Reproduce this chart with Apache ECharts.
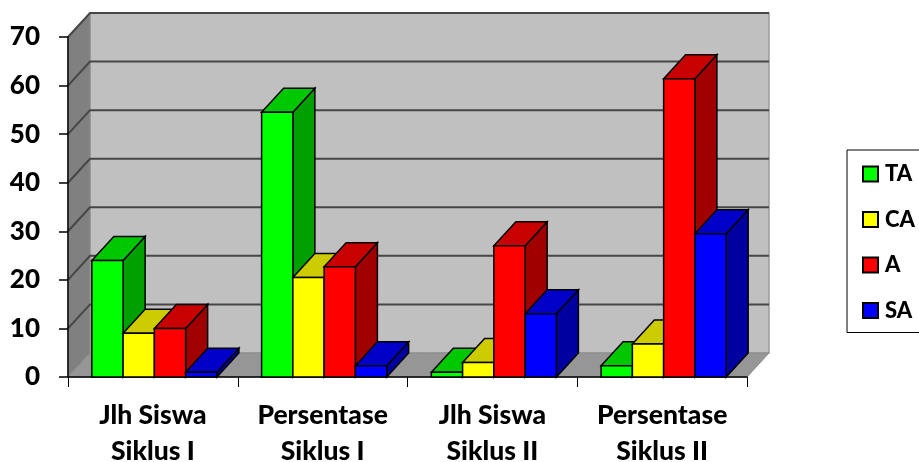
<!DOCTYPE html>
<html>
<head>
<meta charset="utf-8">
<style>html,body{margin:0;padding:0;background:#fff}#c{width:919px;height:462px}</style>
<script src="https://cdn.jsdelivr.net/npm/echarts@6/dist/echarts.min.js"></script>
</head>
<body>
<div id="c"></div>
<script>
// Chart data
const categories = ['Jlh Siswa\nSiklus I', 'Persentase\nSiklus I', 'Jlh Siswa\nSiklus II', 'Persentase\nSiklus II'];
const valuesTA = [24, 54.5, 1, 2.3];
const valuesCA = [9, 20.5, 3, 6.8];
const valuesA = [10, 22.7, 27, 61.4];
const valuesSA = [1, 2.3, 13, 29.5];
const yTicks = [0, 10, 20, 30, 40, 50, 60, 70];

// Oblique projection of the depth axis, in pixels
const DX = 22, DY = 24;
const FONT = 'Lato, "Open Sans", sans-serif';

const shades = {
  TA: ['#00ff00', '#00c800', '#00a000'],
  CA: ['#ffff00', '#cccc00', '#a0a000'],
  A: ['#ff0000', '#c80000', '#a00000'],
  SA: ['#0000ff', '#0000c8', '#0000a0']
};

function poly(points, fill, stroke, lineWidth) {
  return {
    type: 'polygon',
    shape: { points },
    style: { fill, stroke: stroke || null, lineWidth: lineWidth || 0 }
  };
}

// Left wall, floor and back wall spanning the whole plot area
function renderWalls(params, api) {
  const x0 = params.coordSys.x, x1 = x0 + params.coordSys.width;
  const yb = api.coord([0, 0])[1], yt = api.coord([0, 70])[1];
  return {
    type: 'group',
    children: [
      poly([[x0 + DX, yt - DY], [x1 + DX, yt - DY], [x1 + DX, yb - DY], [x0 + DX, yb - DY]], '#c0c0c0', '#9a9a9a', 1.5),
      poly([[x0, yt], [x0 + DX, yt - DY], [x0 + DX, yb - DY], [x0, yb]], '#808080', '#8c8c8c', 1),
      poly([[x0, yb], [x0 + DX, yb - DY], [x1 + DX, yb - DY], [x1, yb]], '#969696', '#8c8c8c', 1)
    ]
  };
}

// One gridline per tick: across the back wall and down the left wall
function renderGridline(params, api) {
  const x0 = params.coordSys.x, x1 = x0 + params.coordSys.width;
  const y = api.coord([0, api.value(0)])[1];
  const lineStyle = { stroke: '#464646', lineWidth: 2, fill: null };
  if (api.value(0) === 0) return { type: 'group', children: [] };
  return {
    type: 'polyline',
    shape: { points: [[x0, y], [x0 + DX, y - DY], [x1 + DX, y - DY]] },
    style: lineStyle
  };
}

function renderBar(seriesIndex, colors) {
  return function (params, api) {
    const band = api.size([1, 0])[0];
    const w = band / 5.43;
    const base = api.coord([api.value(0), 0]);
    const top = api.coord([api.value(0), api.value(1)]);
    const l = base[0] + 1.5 - 2 * w + seriesIndex * w;
    const r = l + w;
    const yb = base[1], yt = top[1];
    const edge = '#000';
    return {
      type: 'group',
      children: [
        poly([[r, yt], [r + DX, yt - DY], [r + DX, yb - DY], [r, yb]], colors[2], edge, 1.5),
        poly([[l, yt], [l + DX, yt - DY], [r + DX, yt - DY], [r, yt]], colors[1], edge, 1.5),
        poly([[l, yt], [r, yt], [r, yb], [l, yb]], colors[0], edge, 1.5)
      ]
    };
  };
}

function barSeries(name, values, index) {
  return {
    name,
    type: 'custom',
    z: 3,
    itemStyle: { color: shades[name][0] },
    encode: { x: 0, y: 1 },
    data: values.map((v, i) => [i, v]),
    renderItem: renderBar(index, shades[name])
  };
}

const chart = echarts.init(document.getElementById('c'), null, { renderer: 'canvas' });
chart.setOption({
  animation: false,
  backgroundColor: '#fff',
  grid: { left: 68, right: 172, top: 37, bottom: 85, outerBoundsMode: 'none' },
  legend: {
    data: ['TA', 'CA', 'A', 'SA'],
    orient: 'vertical',
    left: 847,
    top: 150,
    padding: [13, 40, 11, 15],
    itemGap: 23.5,
    itemWidth: 15,
    itemHeight: 15,
    icon: 'rect',
    borderColor: '#000',
    borderWidth: 1,
    itemStyle: { borderColor: '#000', borderWidth: 2 },
    textStyle: { fontFamily: FONT, fontWeight: 900, fontSize: 22, color: '#000', padding: [0, 0, 0, 2] }
  },
  xAxis: {
    type: 'category',
    data: categories,
    z: 2,
    axisLine: { lineStyle: { color: '#000', width: 1.5 } },
    axisTick: { show: true, length: 10, lineStyle: { color: '#000', width: 1 } },
    axisLabel: { margin: 20, fontFamily: FONT, fontWeight: 900, fontSize: 26.5, lineHeight: 36, color: '#000', interval: 0 }
  },
  yAxis: {
    type: 'value',
    min: 0,
    max: 70,
    interval: 10,
    z: 2,
    splitLine: { show: false },
    axisLine: { show: true, lineStyle: { color: '#000', width: 1.5 } },
    axisTick: { show: true, length: 9, lineStyle: { color: '#000', width: 1.5 } },
    axisLabel: { margin: 28, padding: [3, 0, 0, 0], fontFamily: FONT, fontWeight: 900, fontSize: 26, color: '#000' }
  },
  series: [
    { type: 'custom', name: 'walls', z: 1, silent: true, data: [0], encode: { y: 0 }, renderItem: renderWalls },
    { type: 'custom', name: 'gridlines', z: 1, silent: true, data: yTicks.map(t => [t]), encode: { y: 0 }, renderItem: renderGridline },
    barSeries('TA', valuesTA, 0),
    barSeries('CA', valuesCA, 1),
    barSeries('A', valuesA, 2),
    barSeries('SA', valuesSA, 3)
  ]
});
</script>
</body>
</html>
